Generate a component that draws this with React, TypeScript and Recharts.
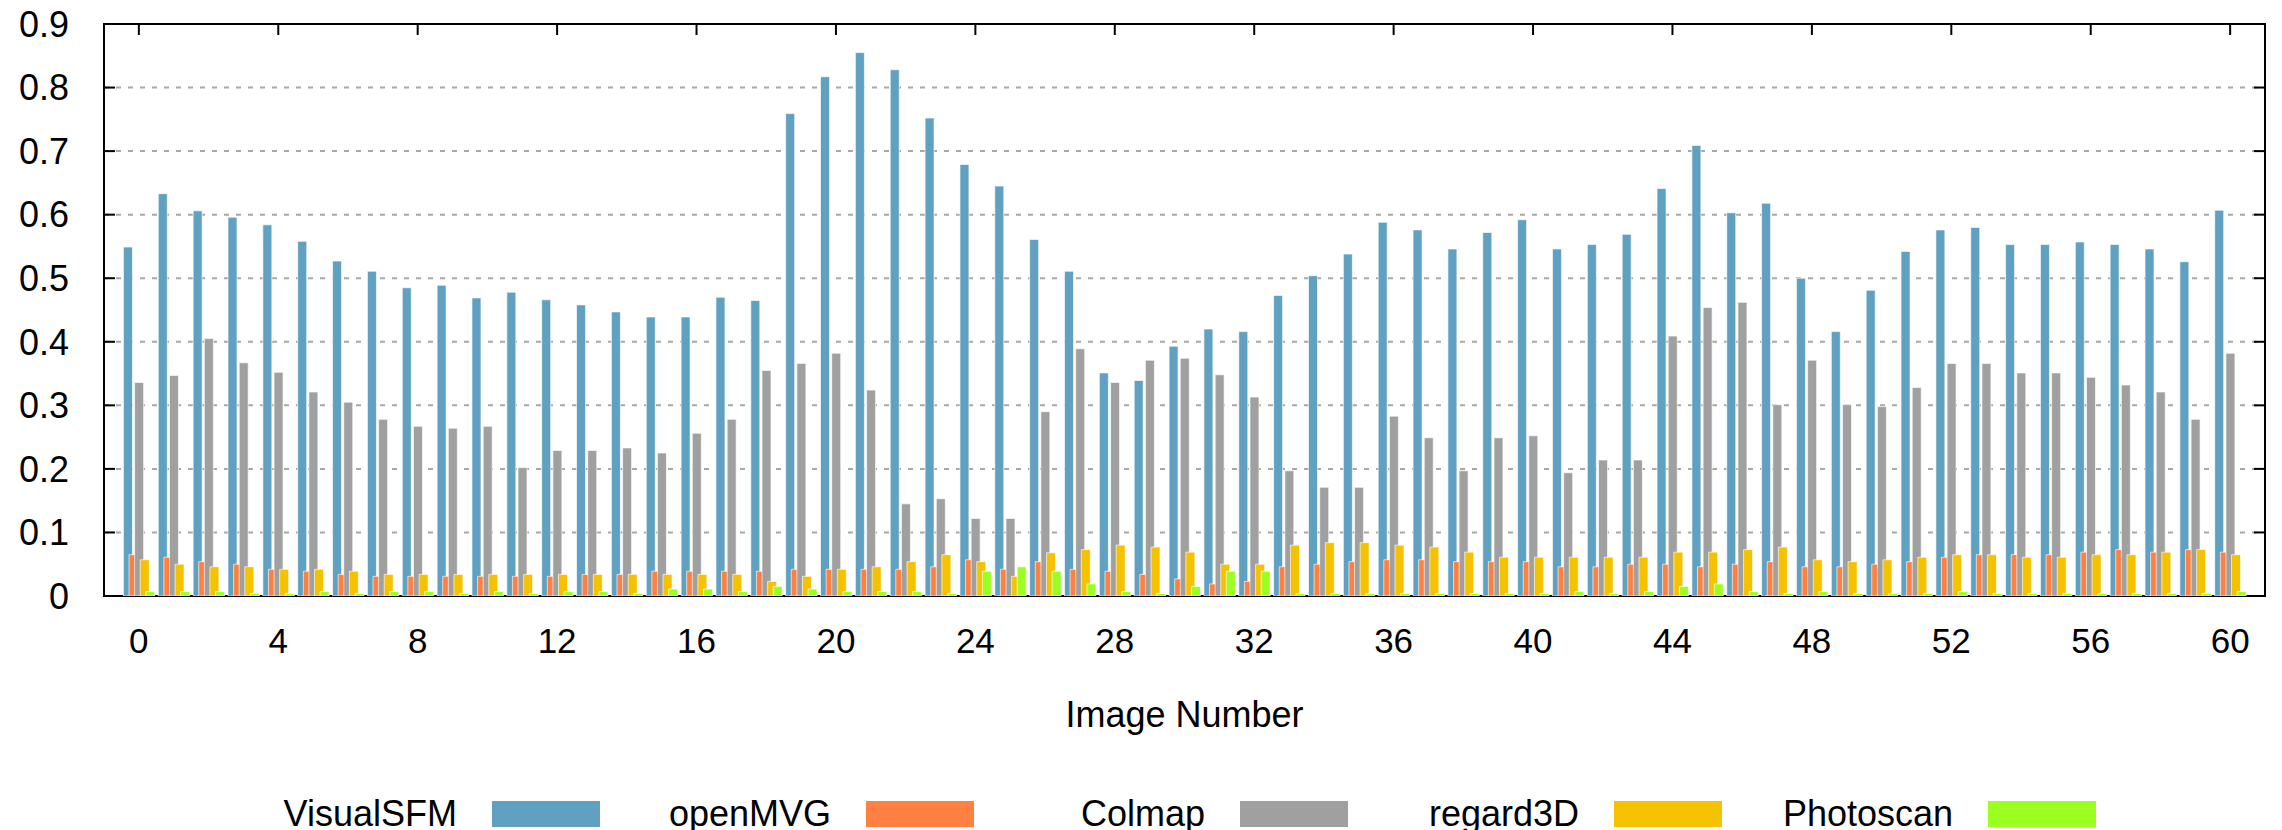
import {
  Bar,
  BarChart,
  CartesianGrid,
  Legend,
  ReferenceArea,
  ReferenceLine,
  XAxis,
  YAxis,
} from "recharts";

const imageNumbers = Array.from({ length: 61 }, (_, i) => i);
const xTicks = [0, 4, 8, 12, 16, 20, 24, 28, 32, 36, 40, 44, 48, 52, 56, 60];
const yTicks = [0, 0.1, 0.2, 0.3, 0.4, 0.5, 0.6, 0.7, 0.8, 0.9];

const visualSFM = [
  0.549, 0.633, 0.606, 0.596, 0.584, 0.558, 0.527, 0.511, 0.485, 0.489, 0.469, 0.478, 0.466,
  0.458, 0.447, 0.439, 0.439, 0.47, 0.465, 0.759, 0.817, 0.855, 0.828, 0.752, 0.679, 0.645,
  0.561, 0.511, 0.351, 0.339, 0.393, 0.42, 0.416, 0.473, 0.504, 0.538, 0.588, 0.576, 0.546,
  0.572, 0.592, 0.546, 0.553, 0.569, 0.641, 0.709, 0.603, 0.618, 0.5, 0.416, 0.481, 0.542,
  0.576, 0.58, 0.553, 0.553, 0.557, 0.553, 0.546, 0.526, 0.607,
];
const openMVG = [
  0.065, 0.061, 0.054, 0.05, 0.042, 0.039, 0.034, 0.031, 0.031, 0.031, 0.031, 0.031, 0.031,
  0.034, 0.034, 0.039, 0.039, 0.039, 0.039, 0.042, 0.042, 0.042, 0.042, 0.046, 0.057, 0.042,
  0.054, 0.042, 0.039, 0.034, 0.027, 0.019, 0.023, 0.046, 0.05, 0.054, 0.057, 0.057, 0.054,
  0.054, 0.054, 0.046, 0.046, 0.05, 0.05, 0.046, 0.05, 0.054, 0.046, 0.046, 0.05, 0.054,
  0.061, 0.065, 0.065, 0.065, 0.069, 0.073, 0.069, 0.073, 0.069,
];
const colmap = [
  0.336, 0.347, 0.405, 0.367, 0.352, 0.321, 0.305, 0.278, 0.267, 0.264, 0.267, 0.202, 0.229,
  0.229, 0.233, 0.225, 0.256, 0.278, 0.355, 0.366, 0.382, 0.324, 0.145, 0.153, 0.122, 0.122,
  0.29, 0.389, 0.336, 0.371, 0.374, 0.348, 0.313, 0.197, 0.171, 0.171, 0.283, 0.249, 0.197,
  0.249, 0.252, 0.194, 0.214, 0.214, 0.409, 0.454, 0.462, 0.301, 0.371, 0.301, 0.298, 0.328,
  0.366, 0.366, 0.351, 0.351, 0.344, 0.332, 0.321, 0.278, 0.382,
];
const regard3D = [
  0.057, 0.05, 0.046, 0.046, 0.042, 0.042, 0.039, 0.034, 0.034, 0.034, 0.034, 0.034, 0.034,
  0.034, 0.034, 0.034, 0.034, 0.034, 0.023, 0.031, 0.042, 0.046, 0.054, 0.065, 0.054, 0.031,
  0.068, 0.073, 0.08, 0.077, 0.069, 0.05, 0.05, 0.08, 0.084, 0.084, 0.08, 0.077, 0.069,
  0.061, 0.061, 0.061, 0.061, 0.061, 0.069, 0.069, 0.073, 0.077, 0.057, 0.054, 0.057, 0.061,
  0.065, 0.065, 0.061, 0.061, 0.065, 0.065, 0.069, 0.073, 0.065,
];
const photoscan = [
  0.007, 0.007, 0.007, 0.004, 0.004, 0.007, 0.004, 0.007, 0.007, 0.004, 0.007, 0.004, 0.007,
  0.007, 0.004, 0.011, 0.011, 0.007, 0.015, 0.011, 0.007, 0.007, 0.007, 0.004, 0.039, 0.046,
  0.039, 0.019, 0.007, 0.004, 0.015, 0.039, 0.039, 0.004, 0.004, 0.004, 0.004, 0.004, 0.004,
  0.004, 0.004, 0.007, 0.004, 0.007, 0.015, 0.019, 0.007, 0.004, 0.007, 0.004, 0.004, 0.004,
  0.007, 0.004, 0.004, 0.004, 0.004, 0.004, 0.004, 0.004, 0.007,
];

const series = [
  { key: "VisualSFM", values: visualSFM, color: "#60a0c0" },
  { key: "openMVG", values: openMVG, color: "#ff8040" },
  { key: "Colmap", values: colmap, color: "#a0a0a0" },
  { key: "regard3D", values: regard3D, color: "#f5c200" },
  { key: "Photoscan", values: photoscan, color: "#9cff22" },
];

const rows = imageNumbers.map((n, i) => {
  const row: Record<string, number> = { name: n };
  series.forEach((s) => (row[s.key] = s.values[i]));
  return row;
});

const W = 2282;
const H = 830;
const ink = "#000";
const tickLen = 11;

// inward ticks on both sides of the frame, drawn at the ends of a y reference line
const sideTicks = (p: any) => {
  const xa = Math.min(p.x1, p.x2);
  const xb = Math.max(p.x1, p.x2);
  return (
    <g stroke={ink} strokeWidth={2}>
      <line x1={xa} x2={xa + tickLen} y1={p.y1} y2={p.y1} />
      <line x1={xb - tickLen} x2={xb} y1={p.y1} y2={p.y1} />
    </g>
  );
};

// inward tick hanging from the top border
const topTick = (p: any) => {
  const ya = Math.min(p.y1, p.y2);
  return <line x1={p.x1} x2={p.x1} y1={ya} y2={ya + tickLen} stroke={ink} strokeWidth={2} />;
};

function LegendRow({ payload }: { payload?: { value: string; color: string }[] }) {
  const items = [...(payload || [])].sort(
    (a, b) =>
      series.findIndex((s) => s.key === a.value) - series.findIndex((s) => s.key === b.value)
  );
  return (
    <div style={{ position: "relative", width: W, height: 32 }}>
      {items.map((p, i) => {
        const sx = 492 + i * 374;
        return (
          <div key={p.value}>
            <div
              style={{
                position: "absolute",
                left: sx - 35 - 300,
                width: 300,
                top: 0,
                height: 32,
                lineHeight: "32px",
                fontSize: 36,
                textAlign: "right",
                color: ink,
                whiteSpace: "nowrap",
              }}
            >
              {p.value}
            </div>
            <div
              style={{
                position: "absolute",
                left: sx,
                top: 3,
                width: 108,
                height: 26,
                background: p.color,
              }}
            />
          </div>
        );
      })}
    </div>
  );
}

export default function App() {
  return (
    <div
      style={{
        position: "absolute",
        left: 0,
        top: 0,
        width: W,
        height: H,
        background: "#fff",
        fontFamily: '"Liberation Sans", Arial, sans-serif',
      }}
    >
      <BarChart
        width={W}
        height={H}
        data={rows}
        margin={{ top: 24, right: 17, bottom: 0, left: 0 }}
        barGap={-3.4}
      >
        <CartesianGrid
          vertical={false}
          stroke="#a8a8a8"
          strokeWidth={2}
          strokeDasharray="5 7"
        />
        <XAxis
          dataKey="name"
          type="number"
          domain={[-1, 61]}
          ticks={xTicks}
          allowDataOverflow
          height={202}
          tickLine={false}
          tickSize={0}
          tickMargin={32}
          axisLine={false}
          tick={{ fontSize: 35, fill: ink }}
          label={{
            value: "Image Number",
            position: "insideBottom",
            offset: 71,
            fill: ink,
            fontSize: 36,
          }}
        />
        <YAxis
          domain={[0, 0.9]}
          ticks={yTicks}
          allowDataOverflow
          width={104}
          tickLine={false}
          tickSize={0}
          tickMargin={35}
          axisLine={false}
          tick={{ fontSize: 36, fill: ink }}
          tickFormatter={(v: number) => String(v)}
        />
        <Legend
          verticalAlign="bottom"
          height={32}
          wrapperStyle={{ left: 0, bottom: 0, width: W }}
          content={(props: any) => <LegendRow payload={props.payload} />}
        />
        {series.map((s) => (
          <Bar
            key={s.key}
            dataKey={s.key}
            name={s.key}
            fill={s.color}
            stroke="rgba(255,255,255,0.65)"
            strokeWidth={1}
            barSize={9}
            isAnimationActive={false}
          />
        ))}
        {yTicks.slice(1, -1).map((v) => (
          <ReferenceLine key={"y" + v} y={v} shape={sideTicks} />
        ))}
        {xTicks.map((v) => (
          <ReferenceLine key={"x" + v} x={v} shape={topTick} />
        ))}
        <ReferenceArea
          x1={-1}
          x2={61}
          y1={0}
          y2={0.9}
          fill="none"
          fillOpacity={0}
          stroke={ink}
          strokeWidth={2}
          ifOverflow="visible"
        />
      </BarChart>
    </div>
  );
}
